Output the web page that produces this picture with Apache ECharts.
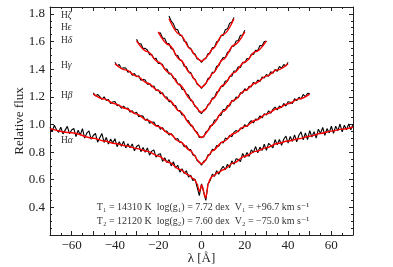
<!DOCTYPE html>
<html><head><meta charset="utf-8">
<script src="https://cdn.jsdelivr.net/npm/echarts@6/dist/echarts.min.js"></script>
<style>html,body{margin:0;padding:0;background:#fff}#c{width:393px;height:267px}</style>
</head><body><div id="c"></div>
<script>
// wavelength offset start of each observed spectrum (1 Å sampling)
const haLam0 = -70, hbLam0 = -50, hgLam0 = -40, hdLam0 = -30, heLam0 = -20, hzLam0 = -15;
const lamStep = 1;

// observed (black) spectra
const haObs = [0.980,0.947,0.994,0.961,0.943,0.980,0.932,0.959,0.986,0.933,0.960,0.971,0.912,0.958,0.924,0.970,0.901,0.937,0.953,0.894,
0.920,0.936,0.872,0.903,0.934,0.870,0.906,0.858,0.894,0.866,0.897,0.839,0.875,0.842,0.878,0.830,0.861,0.832,0.859,0.810,
0.841,0.852,0.803,0.833,0.799,0.830,0.778,0.807,0.815,0.764,0.782,0.788,0.733,0.759,0.724,0.745,0.700,0.730,0.685,0.705,
0.655,0.680,0.645,0.665,0.620,0.633,0.595,0.605,0.545,0.485,0.570,0.510,0.450,0.570,0.595,0.640,0.625,0.665,0.640,0.674,
0.697,0.672,0.712,0.687,0.737,0.712,0.752,0.746,0.731,0.790,0.760,0.797,0.769,0.816,0.798,0.840,0.795,0.836,0.811,0.857,
0.812,0.863,0.849,0.830,0.891,0.852,0.891,0.849,0.893,0.916,0.865,0.913,0.877,0.925,0.874,0.922,0.946,0.889,0.938,0.891,
0.955,0.909,0.948,0.902,0.966,0.935,0.978,0.922,0.970,0.939,0.987,0.935,0.988,0.955,1.003,0.946,0.994,0.962,1.004,0.962,1.000];
const hbObs = [1.228,1.207,1.218,1.201,1.182,1.200,1.174,1.181,1.152,1.163,1.166,1.135,1.140,1.117,1.132,1.115,1.119,1.089,1.099,1.079,
1.089,1.056,1.063,1.060,1.031,1.040,1.009,1.016,1.017,0.988,0.995,0.965,0.977,0.951,0.953,0.923,0.933,0.915,0.889,0.899,
0.869,0.870,0.839,0.846,0.819,0.818,0.780,0.776,0.737,0.729,0.705,0.733,0.741,0.780,0.782,0.820,0.813,0.848,0.843,0.872,
0.865,0.901,0.895,0.921,0.911,0.943,0.957,0.947,0.975,0.969,0.999,0.984,1.011,1.028,1.011,1.040,1.035,1.062,1.047,1.078,
1.069,1.099,1.081,1.109,1.125,1.105,1.134,1.123,1.152,1.133,1.164,1.161,1.152,1.187,1.172,1.197,1.184,1.217,1.200,1.225,1.224];
const hgObs = [1.450,1.425,1.434,1.403,1.410,1.409,1.378,1.385,1.356,1.369,1.346,1.352,1.320,1.326,1.322,1.290,1.297,1.272,1.279,1.246,
1.251,1.223,1.229,1.199,1.199,1.165,1.167,1.137,1.137,1.101,1.101,1.068,1.067,1.032,1.027,0.990,0.986,0.952,0.943,0.905,
0.909,0.909,0.945,0.954,0.990,0.992,1.031,1.032,1.067,1.066,1.107,1.107,1.137,1.133,1.173,1.169,1.199,1.193,1.229,1.227,
1.259,1.246,1.277,1.272,1.305,1.292,1.322,1.310,1.344,1.336,1.362,1.349,1.382,1.371,1.398,1.385,1.420,1.407,1.434,1.423,1.450];
const hdObs = [1.617,1.584,1.584,1.549,1.551,1.539,1.504,1.507,1.476,1.479,1.442,1.443,1.432,1.399,1.401,1.365,1.365,1.335,1.331,1.295,
1.293,1.254,1.252,1.220,1.211,1.174,1.166,1.129,1.121,1.091,1.078,1.105,1.109,1.145,1.154,1.192,1.195,1.234,1.240,1.274,
1.277,1.315,1.315,1.349,1.349,1.387,1.387,1.417,1.412,1.449,1.446,1.477,1.474,1.509,1.506,1.537,1.535,1.571,1.570,1.600,1.601];
const heObs = [1.660,1.663,1.626,1.623,1.586,1.585,1.548,1.545,1.502,1.499,1.466,1.460,1.421,1.417,1.382,1.376,1.337,1.328,1.290,1.282,
1.260,1.284,1.294,1.332,1.339,1.378,1.380,1.421,1.425,1.460,1.484,1.483,1.522,1.527,1.566,1.567,1.604,1.607,1.646,1.647,1.682];
const hzObs = [1.785,1.747,1.730,1.690,1.685,1.646,1.641,1.602,1.597,1.557,1.551,1.517,1.510,1.474,1.470,1.448,1.472,1.478,1.512,1.517,
1.555,1.559,1.599,1.606,1.643,1.644,1.685,1.692,1.732,1.739,1.775];

// model (red) profiles
const haModelLam = [-70,-60,-50,-45,-40,-35,-30,-25,-20,-15,-10,-6,-4,-3,-2,-1.5,-1,-0.5,0,0.5,1,1.5,2,2.5,3,4,5,8,10,15,20,25,30,35,40,45,50,55,60,65,70];
const haModelFlux = [0.970,0.940,0.900,0.880,0.862,0.845,0.826,0.805,0.772,0.725,0.675,0.635,0.610,0.595,0.570,0.545,0.515,0.530,0.562,0.550,0.515,0.480,0.470,0.510,0.565,0.605,0.625,0.655,0.672,0.722,0.770,0.805,0.832,0.862,0.880,0.897,0.915,0.935,0.952,0.966,0.980];
const hbModelLam = [-50,-45,-40,-35,-30,-25,-20,-15,-10,-5,-3,-2,-1,0,1,2,3,5,10,15,20,25,30,35,40,45,50];
const hbModelFlux = [1.220,1.185,1.150,1.115,1.075,1.030,0.985,0.935,0.875,0.810,0.770,0.745,0.725,0.715,0.725,0.745,0.770,0.810,0.875,0.935,0.985,1.030,1.075,1.115,1.150,1.185,1.220];
const hgModelLam = [-40,-35,-30,-25,-20,-15,-10,-5,-3,-2,-1,0,1,2,3,5,10,15,20,25,30,35,40];
const hgModelFlux = [1.440,1.395,1.350,1.300,1.245,1.175,1.095,1.000,0.958,0.935,0.915,0.905,0.915,0.935,0.958,1.000,1.095,1.175,1.245,1.300,1.350,1.395,1.440];
const hdModelLam = [-30,-25,-20,-15,-10,-5,-3,-2,-1,0,1,2,3,5,10,15,20,25,30];
const hdModelFlux = [1.605,1.527,1.452,1.375,1.285,1.182,1.137,1.115,1.097,1.088,1.097,1.115,1.137,1.182,1.285,1.375,1.452,1.527,1.605];
const heModelLam = [-20,-15,-10,-5,-3,-2,-1,0,1,2,3,5,10,15,20];
const heModelFlux = [1.670,1.575,1.470,1.368,1.322,1.298,1.278,1.268,1.278,1.298,1.322,1.368,1.470,1.575,1.670];
const hzModelLam = [-15,-10,-5,-3,-2,-1,0,1,2,3,5,10,15];
const hzModelFlux = [1.765,1.652,1.545,1.502,1.482,1.466,1.458,1.466,1.482,1.502,1.545,1.652,1.765];

// text
const lineNames = ['ζ','ϵ','δ','γ','β','α'];
const paramLine1 = 'T₁ = 14310 K  log(g₁) = 7.72 dex  V₁ = +96.7 km s⁻¹';
const paramLine2 = 'T₂ = 12120 K  log(g₂) = 7.60 dex  V₂ = −75.0 km s⁻¹';
const xTitle = 'λ [Å]';
const yTitle = 'Relative flux';

const FONT = '"Liberation Serif","DejaVu Serif",serif';
const GRID = {left: 50, right: 40, top: 7, bottom: 32};
const chart = echarts.init(document.getElementById('c'), null, {renderer: 'canvas'});

function obsData(lam0, arr) { return arr.map((v, i) => [lam0 + i * lamStep, v]); }
function modelData(lams, fl) { return lams.map((l, i) => [l, fl[i]]); }
function obsSeries(d) {
  return {type: 'line', data: d, showSymbol: false, symbol: 'none', smooth: false,
    lineStyle: {color: '#000', width: 1.1}, z: 2, silent: true};
}
function modSeries(d) {
  return {type: 'line', data: d, showSymbol: false, symbol: 'none', smooth: 0.35, smoothMonotone: 'x',
    lineStyle: {color: '#ff0000', width: 1.4}, z: 3, silent: true};
}
const minus = v => (v < 0 ? '\u2212' + (-v) : '' + v);
const axisCol = '#222';
const xBase = {type: 'value', min: -70, max: 70, interval: 10,
  axisLine: {onZero: false, lineStyle: {color: axisCol, width: 1}},
  axisTick: {inside: true, length: 4, lineStyle: {color: axisCol}},
  minorTick: {show: true, splitNumber: 2, length: 2, lineStyle: {color: axisCol}},
  splitLine: {show: false}};
const yBase = {type: 'value', min: 0.2, max: 1.85, interval: 0.2,
  axisLine: {onZero: false, lineStyle: {color: axisCol, width: 1}},
  axisTick: {inside: true, length: 4, lineStyle: {color: axisCol}},
  minorTick: {show: true, splitNumber: 4, length: 2, lineStyle: {color: axisCol}},
  splitLine: {show: false}};

const labelYs = [16, 28.5, 41, 66, 96, 141.5];
const graphics = lineNames.map((g, i) => ({
  type: 'text', left: 61, top: labelYs[i] - 6,
  style: {text: 'H{g|' + g + '}', font: '9.5px ' + FONT, fill: '#333',
    rich: {g: {font: 'italic 9.5px ' + FONT, fill: '#333'}}}
}));
graphics.push({type: 'text', x: 203, y: 207, style: {text: paramLine1, font: '10px ' + FONT, fill: '#333', align: 'center', verticalAlign: 'middle'}});
graphics.push({type: 'text', x: 203, y: 221, style: {text: paramLine2, font: '10px ' + FONT, fill: '#333', align: 'center', verticalAlign: 'middle'}});
graphics.push({type: 'text', x: 201.5, y: 259, style: {text: xTitle, font: '13px ' + FONT, fill: '#222', align: 'center', verticalAlign: 'middle'}});
graphics.push({type: 'text', x: 20, y: 121, rotation: Math.PI / 2, style: {text: yTitle, font: '13px ' + FONT, fill: '#222', align: 'center', verticalAlign: 'middle'}});

chart.setOption({
  animation: false,
  backgroundColor: '#fff',
  grid: GRID,
  xAxis: [
    Object.assign({}, xBase, {position: 'bottom',
      axisLabel: {show: true, margin: 4, color: '#222', fontSize: 13, fontFamily: FONT,
        formatter: v => (Math.round(v) % 20 === 0 ? minus(Math.round(v)) : '')}}),
    Object.assign({}, xBase, {position: 'top', axisLabel: {show: false}})
  ],
  yAxis: [
    Object.assign({}, yBase, {position: 'left',
      axisLabel: {show: true, margin: 5, color: '#222', fontSize: 13, fontFamily: FONT, showMinLabel: false,
        formatter: v => v.toFixed(1)}}),
    Object.assign({}, yBase, {position: 'right', axisLabel: {show: false}})
  ],
  series: [
    obsSeries(obsData(haLam0, haObs)), modSeries(modelData(haModelLam, haModelFlux)),
    obsSeries(obsData(hbLam0, hbObs)), modSeries(modelData(hbModelLam, hbModelFlux)),
    obsSeries(obsData(hgLam0, hgObs)), modSeries(modelData(hgModelLam, hgModelFlux)),
    obsSeries(obsData(hdLam0, hdObs)), modSeries(modelData(hdModelLam, hdModelFlux)),
    obsSeries(obsData(heLam0, heObs)), modSeries(modelData(heModelLam, heModelFlux)),
    obsSeries(obsData(hzLam0, hzObs)), modSeries(modelData(hzModelLam, hzModelFlux))
  ],
  graphic: graphics
});
</script></body></html>
